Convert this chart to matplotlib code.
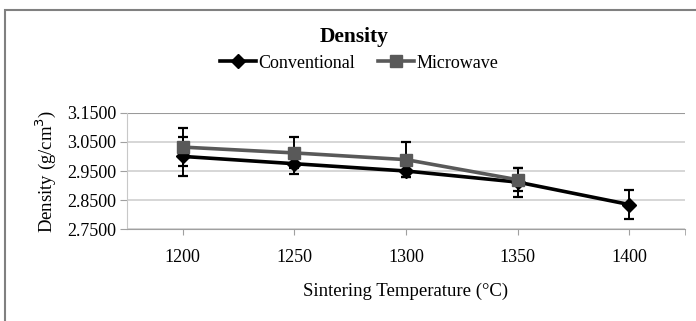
import matplotlib
matplotlib.use("Agg")
import matplotlib.pyplot as plt
from matplotlib.patches import Rectangle
from matplotlib.ticker import FormatStrFormatter

# values
temperatures = ["1200", "1250", "1300", "1350", "1400"]
conventional = [3.000, 2.975, 2.950, 2.912, 2.835]
conventional_err = [0.067, 0.036, 0.020, 0.050, 0.050]
microwave = [3.032, 3.012, 2.989, 2.920]
microwave_err = [0.064, 0.053, 0.060, 0.040]
y_ticks = [2.75, 2.85, 2.95, 3.05, 3.15]

plt.rcParams["font.family"] = ["Liberation Serif", "DejaVu Serif"]

W, H = 696, 321
fig = plt.figure(figsize=(W / 100, H / 100), dpi=100)
ax = fig.add_axes([127 / W, 1 - 229.3 / H, (685 - 127) / W, (229.3 - 112.7) / H])

x_conv = list(range(len(conventional)))
x_micro = list(range(len(microwave)))

err_style = dict(fmt="none", ecolor="black", elinewidth=1.4, capsize=3.8, capthick=1.6)
ax.errorbar(x_conv, conventional, yerr=conventional_err, zorder=2.5, **err_style)
ax.plot(x_conv, conventional, color="black", lw=2.6, marker="D", ms=7,
        label="Conventional", zorder=3)
ax.errorbar(x_micro, microwave, yerr=microwave_err, zorder=3.5, **err_style)
ax.plot(x_micro, microwave, color="#595959", lw=2.6, marker="s", ms=9,
        label="Microwave", zorder=4)

ax.set_xlim(-0.5, len(temperatures) - 0.5)
ax.set_ylim(y_ticks[0], y_ticks[-1])
ax.set_xticks(x_conv)
ax.set_xticklabels(temperatures)
ax.set_xticks([len(temperatures) - 0.5], minor=True)
ax.set_yticks(y_ticks)
ax.yaxis.set_major_formatter(FormatStrFormatter("%.4f"))

ax.grid(axis="y", color="#d0d0d0", lw=1.2)
ax.set_axisbelow(True)
ax.axhline(y_ticks[-1], color="#9a9a9a", lw=1.5, zorder=1)
for side in ["top", "right"]:
    ax.spines[side].set_visible(False)
ax.spines["left"].set_color("#c8c8c8")
ax.spines["bottom"].set_color("#a0a0a0")
ax.tick_params(axis="x", which="both", direction="out", length=4, color="#a0a0a0",
               labelsize=13, pad=10)
ax.tick_params(axis="y", direction="out", length=5, color="#a0a0a0", labelsize=13, pad=3)

ax.set_xlabel("Sintering Temperature (°C)", fontsize=13.5, labelpad=12)
ax.set_ylabel("Density (g/cm$^3$)", fontsize=13.5, labelpad=6)

fig.text(354 / W, 1 - 37 / H, "Density", ha="center", va="center",
         fontsize=15.5, fontweight="bold")
fig.legend(loc="center", bbox_to_anchor=(359 / W, 1 - 63 / H), ncol=2,
           frameon=False, fontsize=13, handlelength=2.0, handletextpad=0.1,
           columnspacing=1.3)

fig.patches.append(Rectangle((5 / W, -0.1), 1.2, 1 - 10 / H + 0.1,
                             transform=fig.transFigure, fill=False,
                             edgecolor="#808080", lw=1.5))

fig.savefig("out.png", dpi=100)
